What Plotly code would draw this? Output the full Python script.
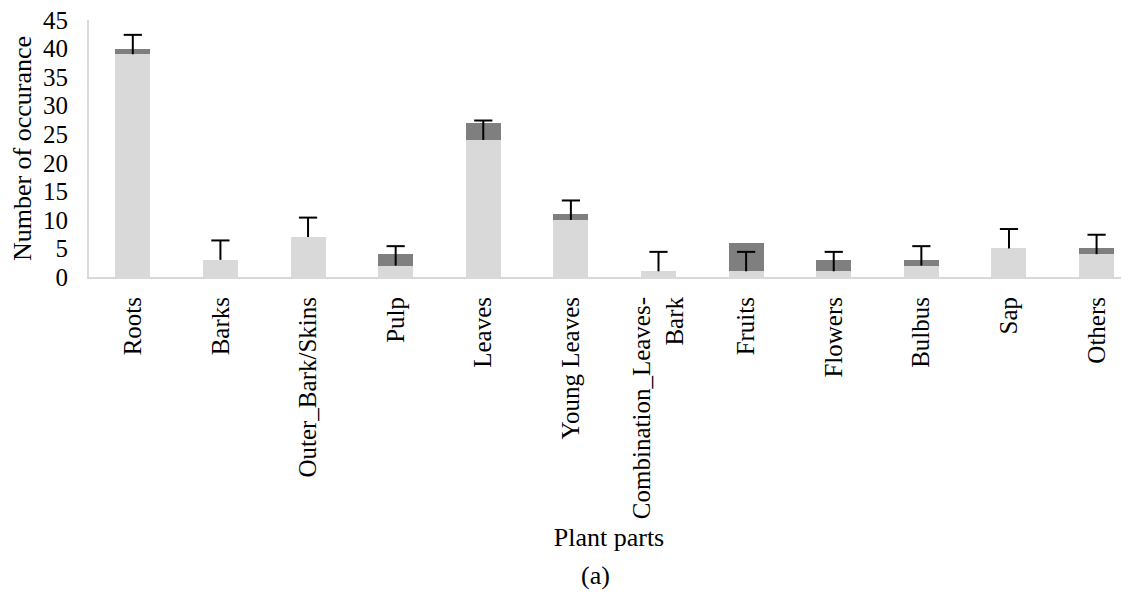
import plotly.graph_objects as go

categories = ["Roots", "Barks", "Outer_Bark/Skins", "Pulp", "Leaves", "Young Leaves",
              "Combination_Leaves-<br>Bark", "Fruits", "Flowers", "Bulbus", "Sap", "Others"]
light_values = [39, 3, 7, 2, 24, 10, 1, 1, 1, 2, 5, 4]
dark_values = [1, 0, 0, 2, 3, 1, 0, 5, 2, 1, 0, 1]
error_plus = [3.4, 3.4, 3.4, 3.4, 3.4, 3.4, 3.4, 3.4, 3.4, 3.4, 3.4, 3.4]
y_ticks = [0, 5, 10, 15, 20, 25, 30, 35, 40, 45]

FONT = "Liberation Serif, Times New Roman, serif"

# page body has an 8px margin; figure sized so it fits the window
W, H = 1121, 584
L, T, B = 81, 12, 314.5
plot_h = H - T - B

fig = go.Figure()
fig.add_trace(go.Bar(x=categories, y=light_values, marker=dict(color="#d9d9d9", line=dict(width=0)),
                     showlegend=False, hoverinfo="skip"))
fig.add_trace(go.Bar(x=categories, y=dark_values, marker=dict(color="#7f7f7f", line=dict(width=0)),
                     showlegend=False, hoverinfo="skip"))
# error bars: vertical line from the light-bar top upward, with a cap only at the top
err_top = [v + e for v, e in zip(light_values, error_plus)]
fig.add_trace(go.Scatter(x=categories, y=err_top, mode="markers",
                         marker=dict(symbol="line-ew-open", size=13, color="black",
                                     line=dict(color="black", width=2)),
                         error_y=dict(type="data", symmetric=False, array=[0] * len(error_plus),
                                      arrayminus=error_plus, color="black", thickness=2, width=0),
                         showlegend=False, hoverinfo="skip", cliponaxis=False))

fig.update_layout(
    width=W, height=H,
    barmode="stack", bargap=0.6,
    plot_bgcolor="white", paper_bgcolor="white",
    margin=dict(l=L, r=0, t=T, b=B, autoexpand=False),
    font=dict(family=FONT, size=25, color="black"),
    xaxis=dict(
        type="category", range=[-0.5, 11.37],
        showline=True, linecolor="#d9d9d9", linewidth=2,
        ticks="", tickangle=-90, ticklabelstandoff=8,
        tickfont=dict(family=FONT, size=25, color="black"),
        title=dict(text="Plant parts", font=dict(family=FONT, size=26), standoff=10),
        showgrid=False, zeroline=False,
    ),
    yaxis=dict(
        range=[0, 45], tickvals=y_ticks, ticklabeloverflow="allow",
        showline=True, linecolor="#d9d9d9", linewidth=2,
        ticks="", ticklabelstandoff=14,
        tickfont=dict(family=FONT, size=25, color="black"),
        title=dict(text="Number of occurance", font=dict(family=FONT, size=26), standoff=8),
        showgrid=False, zeroline=False,
    ),
    annotations=[dict(text="(a)", x=(587 - L) / (W - L), y=-(569 - (H - B)) / plot_h,
                      xref="paper", yref="paper", xanchor="center", yanchor="middle",
                      showarrow=False, font=dict(family=FONT, size=26))],
)

fig.write_html("out.html")
